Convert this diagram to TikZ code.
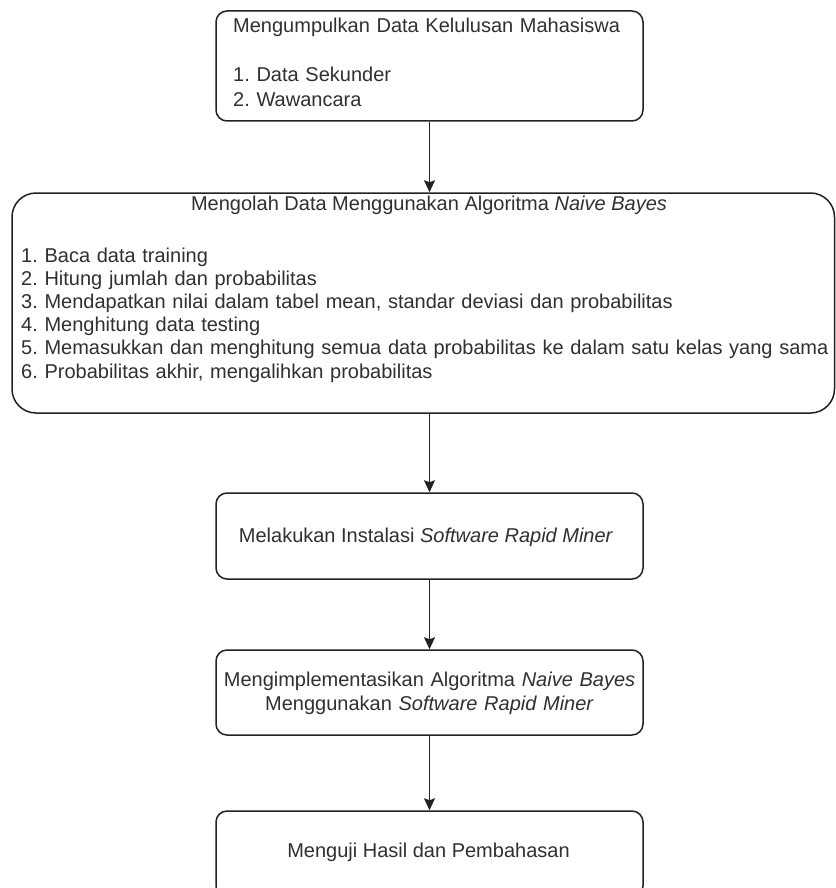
\documentclass[tikz,border=0pt]{standalone}
\usepackage{fontspec}
\setmainfont{Liberation Sans}
\usetikzlibrary{arrows.meta}
\definecolor{linec}{HTML}{222222}
\definecolor{textc}{HTML}{303030}
\begin{document}
\frenchspacing
\begin{tikzpicture}[x=1pt,y=-1pt,
  box/.style={draw=linec, line width=1.5pt, rounded corners=11pt, inner sep=0pt, fill=white},
  bigbox/.style={box, rounded corners=24pt},
  txt/.style={text=textc, inner sep=0pt, font=\frenchspacing\fontsize{20}{24.5}\selectfont},
  arr/.style={draw=linec, line width=1.5pt, -{Stealth[length=12pt,width=11pt,inset=2pt]}}
]
\useasboundingbox[fill=white] (0,0) rectangle (835,888);

% boxes
\node[box, minimum width=427pt, minimum height=110pt] (b1) at (429.5,66) {};
\node[bigbox, minimum width=822.5pt, minimum height=220pt] (b2) at (423.25,303) {};
\node[box, minimum width=427pt, minimum height=86pt] (b3) at (429.5,536) {};
\node[box, minimum width=427pt, minimum height=85pt] (b4) at (429.5,692.5) {};
\node[box, minimum width=427pt, minimum height=86pt] (b5) at (429.5,854) {};

% texts
\node[txt, anchor=base west, text width=400pt, align=left] (t1) at (233,33)
  {Mengumpulkan Data Kelulusan Mahasiswa\\[24.5pt]1. Data Sekunder\\2. Wawancara};
\node[txt, anchor=base] (t2a) at (429,210)
  {Mengolah Data Menggunakan Algoritma \textit{Naive Bayes}};
\node[txt, anchor=base west, text width=812pt, align=left, font=\frenchspacing\fontsize{20}{23.2}\selectfont] (t2b) at (21,262)
  {1. Baca data training\\
   2. Hitung jumlah dan probabilitas\\
   3. Mendapatkan nilai dalam tabel mean, standar deviasi dan probabilitas\\
   4. Menghitung data testing\\
   5. Memasukkan dan menghitung semua data probabilitas ke dalam satu kelas yang sama\\
   6. Probabilitas akhir, mengalihkan probabilitas};
\node[txt, anchor=base] (t3) at (426,542)
  {Melakukan Instalasi \textit{Software Rapid Miner}};
\node[txt, anchor=base, text width=427pt, align=center] (t4) at (429.5,686)
  {Mengimplementasikan Algoritma \textit{Naive Bayes}\\Menggunakan \textit{Software Rapid Miner}};
\node[txt, anchor=base] (t5) at (428.5,857)
  {Menguji Hasil dan Pembahasan};

% connectors
\draw[arr] (b1.south) -- (b1.south |- b2.north);
\draw[arr] (b3.north |- b2.south) -- (b3.north);
\draw[arr] (b3.south) -- (b4.north);
\draw[arr] (b4.south) -- (b5.north);
\end{tikzpicture}
\end{document}
